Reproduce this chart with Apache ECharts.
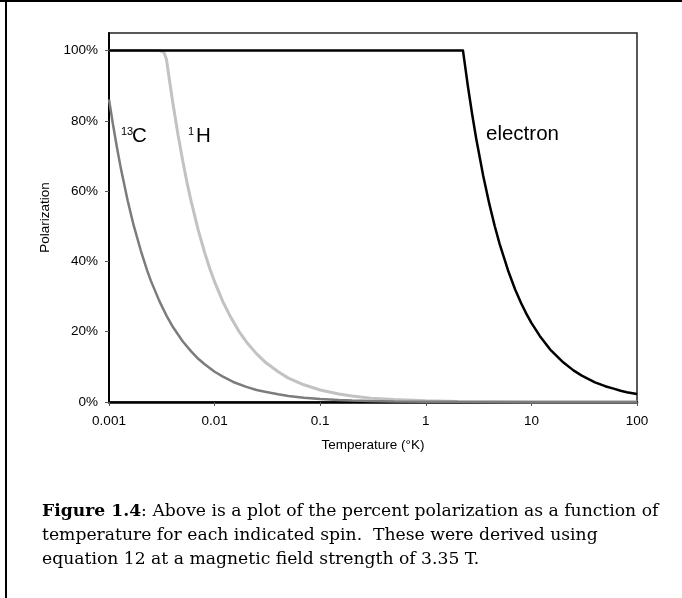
<!DOCTYPE html>
<html>
<head>
<meta charset="utf-8">
<style>
  html, body { margin: 0; padding: 0; background: #fff; }
  #chart { width: 682px; height: 598px; }
</style>
<script src="https://cdn.jsdelivr.net/npm/echarts@6/dist/echarts.min.js"></script>
</head>
<body>
<div id="chart"></div>
<script>
// Temperatures (K) and percent polarization for each spin species
const tempC13 = [0.001, 0.0011, 0.0012, 0.0013, 0.0015, 0.0017, 0.002, 0.0023, 0.0025, 0.003, 0.0035, 0.004, 0.005, 0.006, 0.007, 0.008, 0.01, 0.012, 0.015, 0.02, 0.025, 0.03, 0.04, 0.05, 0.07, 0.1, 0.15, 0.2, 0.3, 0.5, 1, 2, 10, 100];
const polC13  = [86.1, 78.3, 71.8, 66.2, 57.4, 50.6, 43.1, 37.4, 34.4, 28.7, 24.6, 21.5, 17.2, 14.4, 12.3, 10.8, 8.6, 7.2, 5.7, 4.3, 3.4, 2.9, 2.2, 1.7, 1.2, 0.86, 0.57, 0.43, 0.29, 0.17, 0.09, 0.04, 0.01, 0.0];

const tempH1 = [0.001, 0.002, 0.003, 0.0033, 0.0035, 0.0037, 0.004, 0.0045, 0.005, 0.0055, 0.006, 0.007, 0.008, 0.009, 0.01, 0.012, 0.014, 0.017, 0.02, 0.025, 0.03, 0.04, 0.05, 0.07, 0.1, 0.15, 0.2, 0.3, 0.5, 1, 2, 10, 100];
const polH1  = [100, 100, 100, 99.6, 97.5, 92.5, 85.6, 76.1, 68.5, 62.2, 57.1, 48.9, 42.8, 38.0, 34.2, 28.5, 24.5, 20.1, 17.1, 13.7, 11.4, 8.6, 6.8, 4.9, 3.4, 2.3, 1.7, 1.1, 0.68, 0.34, 0.17, 0.03, 0.0];

const tempElectron = [0.001, 0.01, 0.1, 1, 2.25, 2.5, 2.75, 3, 3.5, 4, 4.5, 5, 6, 7, 8, 9, 10, 12, 15, 20, 25, 30, 40, 50, 60, 70, 80, 100];
const polElectron  = [100, 100, 100, 100, 100, 90, 81.8, 75, 64.3, 56.3, 50, 45, 37.5, 32.1, 28.1, 25, 22.5, 18.8, 15, 11.3, 9, 7.5, 5.6, 4.5, 3.8, 3.2, 2.8, 2.25];

const xTickLabels = ['0.001', '0.01', '0.1', '1', '10', '100'];
const yTickLabels = ['0%', '20%', '40%', '60%', '80%', '100%'];

const pairs = (xs, ys) => xs.map((x, i) => [x, ys[i]]);

const axisFont = 'Liberation Sans, Arial, sans-serif';
const captionFont = 'DejaVu Serif, serif';

const chart = echarts.init(document.getElementById('chart'), null, { renderer: 'canvas' });

chart.setOption({
  animation: false,
  backgroundColor: '#ffffff',
  grid: {
    left: 109, right: 45, top: 33, bottom: 196,
    show: true, borderColor: '#222', borderWidth: 1.5, backgroundColor: 'transparent'
  },
  xAxis: {
    type: 'log', logBase: 10, min: 0.001, max: 100,
    name: 'Temperature (°K)', nameLocation: 'middle', nameGap: 36,
    nameTextStyle: { fontFamily: axisFont, fontSize: 13.5, color: '#000' },
    axisLine: { lineStyle: { color: '#000', width: 2.5 } },
    axisTick: { show: true, inside: false, length: 4, lineStyle: { color: '#555', width: 1 } },
    minorTick: { show: false },
    splitLine: { show: false },
    axisLabel: {
      margin: 12, fontFamily: axisFont, fontSize: 13.5, color: '#000',
      formatter: v => xTickLabels[Math.round(Math.log10(v)) + 3]
    }
  },
  yAxis: {
    type: 'value', min: 0, max: 105, interval: 20,
    name: 'Polarization', nameLocation: 'middle', nameGap: 52, nameRotate: 90,
    nameTextStyle: { fontFamily: axisFont, fontSize: 13.5, color: '#000' },
    axisLine: { show: true, lineStyle: { color: '#000', width: 2 } },
    axisTick: { show: true, inside: false, length: 4, lineStyle: { color: '#555', width: 1 } },
    splitLine: { show: false },
    axisLabel: {
      margin: 11, fontFamily: axisFont, fontSize: 13.5, color: '#000',
      showMaxLabel: false,
      formatter: v => (v % 20 === 0 && v <= 100) ? yTickLabels[v / 20] : ''
    }
  },
  series: [
    {
      name: '13C', type: 'line', data: pairs(tempC13, polC13),
      showSymbol: false, lineStyle: { color: '#7c7c7c', width: 2.5 }, z: 2
    },
    {
      name: '1H', type: 'line', data: pairs(tempH1, polH1),
      showSymbol: false, lineStyle: { color: '#c2c2c2', width: 3 }, z: 1
    },
    {
      name: 'electron', type: 'line', data: pairs(tempElectron, polElectron),
      showSymbol: false, lineStyle: { color: '#000', width: 2.5, join: 'round' }, z: 3
    }
  ],
  graphic: [
    // outer frame (top and left edges)
    { type: 'rect', shape: { x: 0, y: 0, width: 682, height: 2 }, style: { fill: '#000' }, silent: true },
    { type: 'rect', shape: { x: 5, y: 0, width: 2, height: 598 }, style: { fill: '#000' }, silent: true },
    // curve labels
    { type: 'text', left: 121, top: 126, style: { text: '13', font: '11px ' + axisFont, fill: '#000' } },
    { type: 'text', left: 132, top: 126, style: { text: 'C', font: '20.5px ' + axisFont, fill: '#000' } },
    { type: 'text', left: 188, top: 126, style: { text: '1', font: '11px ' + axisFont, fill: '#000' } },
    { type: 'text', left: 196, top: 126, style: { text: 'H', font: '20.5px ' + axisFont, fill: '#000' } },
    { type: 'text', left: 486, top: 124, style: { text: 'electron', font: '20.5px ' + axisFont, fill: '#000' } },
    // caption
    { type: 'text', left: 42, top: 503, style: {
        text: '{b|Figure 1.4}: Above is a plot of the percent polarization as a function of',
        font: '17.2px ' + captionFont, fill: '#000',
        rich: { b: { fontWeight: 'bold', fontFamily: captionFont, fontSize: 17.2, fill: '#000' } }
    } },
    { type: 'text', left: 42, top: 527, style: {
        text: 'temperature for each indicated spin.  These were derived using',
        font: '17.2px ' + captionFont, fill: '#000'
    } },
    { type: 'text', left: 42, top: 551, style: {
        text: 'equation 12 at a magnetic field strength of 3.35 T.',
        font: '17.2px ' + captionFont, fill: '#000'
    } }
  ]
});
</script>
</body>
</html>
